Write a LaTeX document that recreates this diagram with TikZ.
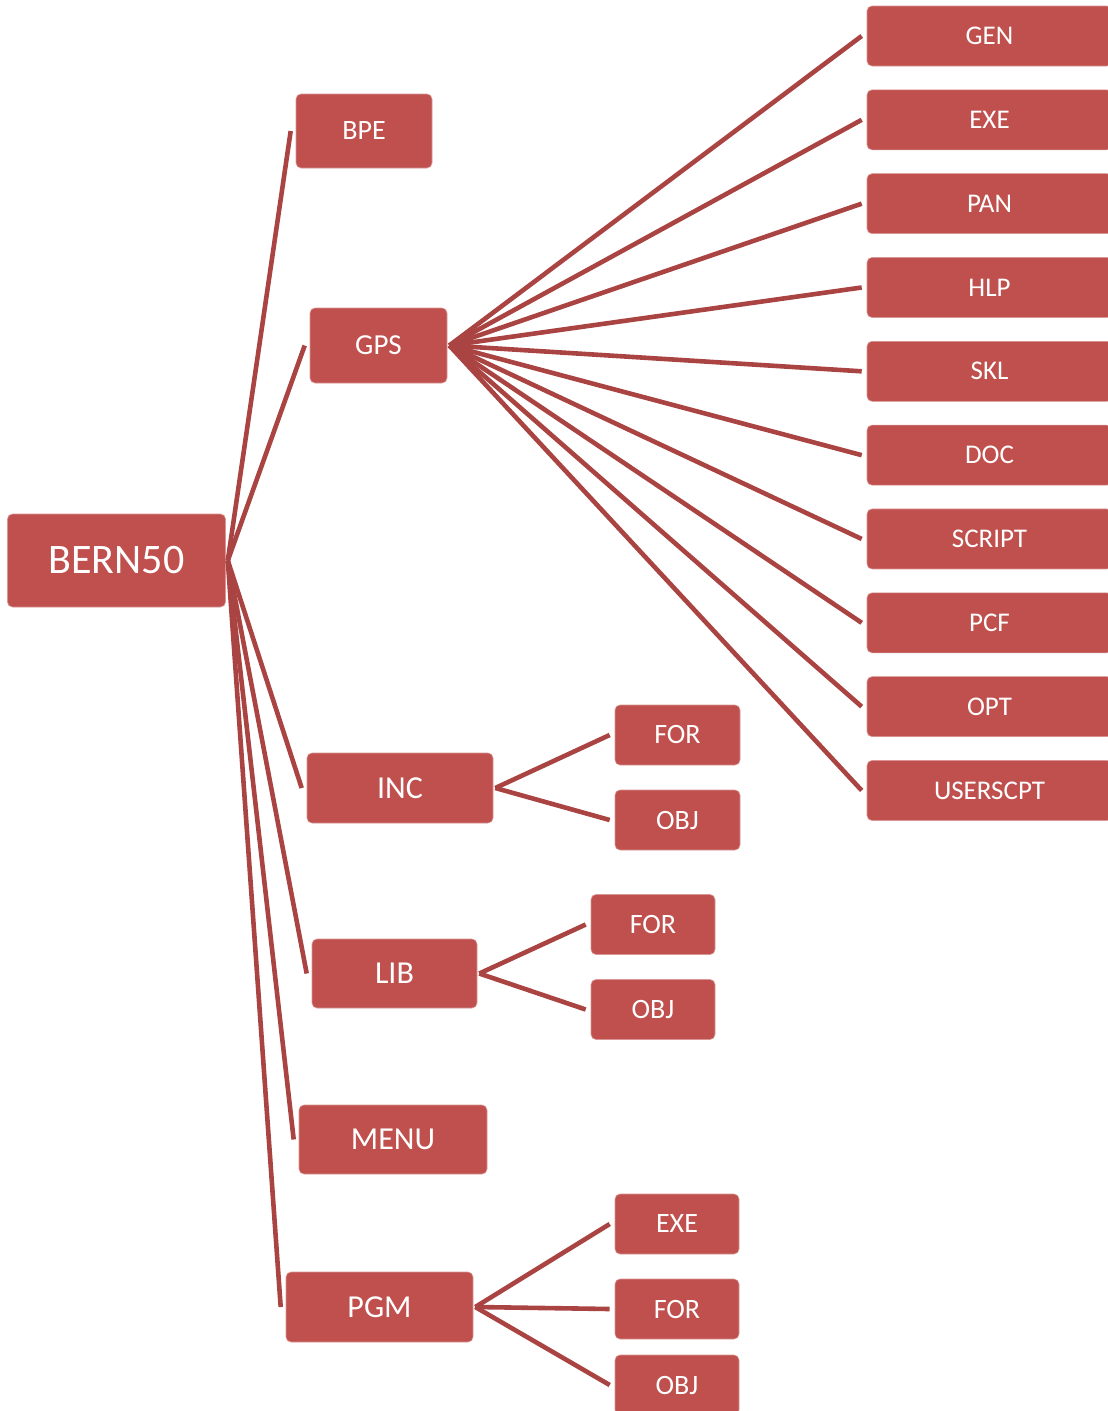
\documentclass[tikz,border=0pt]{standalone}
\usepackage{fontspec}
\setmainfont{Carlito}
\definecolor{boxred}{HTML}{C0504D}
\definecolor{linered}{HTML}{AA4442}
\begin{document}
\begin{tikzpicture}[x=1pt,y=-1pt,
  box/.style={fill=boxred, draw=boxred!60!white, line width=0.6pt, rounded corners=5pt, text=white, inner sep=0pt, anchor=center},
  conn/.style={draw=linered, line width=4.6pt},
  fs/.style={font=\fontsize{#1}{#1}\selectfont}]
\useasboundingbox (0,0) rectangle (1108,1411);
\clip (0,0) rectangle (1108,1411);
% root
\node[box, minimum width=218pt, minimum height=93pt, fs=42] (bern) at (116.5,560.5) {BERN50};
% level 1
\node[box, minimum width=136pt, minimum height=74pt, fs=28] (bpe) at (364,131) {BPE};
\node[box, minimum width=137pt, minimum height=75pt, fs=29] (gps) at (378.5,345.5) {GPS};
\node[box, minimum width=186pt, minimum height=70pt, fs=32] (inc) at (400,788) {INC};
\node[box, minimum width=165pt, minimum height=69pt, fs=32] (lib) at (394.5,973.5) {LIB};
\node[box, minimum width=188pt, minimum height=69pt, fs=32] (menu) at (393,1139.5) {MENU};
\node[box, minimum width=187pt, minimum height=70pt, fs=32] (pgm) at (379.5,1307) {PGM};
% GPS children
\foreach \name/\lab [count=\i from 0] in {gen/GEN,exe/EXE,pan/PAN,hlp/HLP,skl/SKL,doc/DOC,script/SCRIPT,pcf/PCF,opt/OPT,userscpt/USERSCPT}{
  \node[box, minimum width=245pt, minimum height=60pt, fs=27] (\name) at (989.5,{36+83.83*\i}) {\lab};
  \draw[conn] ([xshift=2pt]gps.east) -- ([xshift=-5pt]\name.west);
}
% INC children
\node[box, minimum width=125pt, minimum height=60pt, fs=28] (incfor) at (677.5,735) {FOR};
\node[box, minimum width=125pt, minimum height=60pt, fs=28] (incobj) at (677.5,820) {OBJ};
% LIB children
\node[box, minimum width=124pt, minimum height=60pt, fs=28] (libfor) at (653,924.5) {FOR};
\node[box, minimum width=124pt, minimum height=60pt, fs=28] (libobj) at (653,1009.5) {OBJ};
% PGM children
\node[box, minimum width=124pt, minimum height=60pt, fs=28] (pgmexe) at (677,1224) {EXE};
\node[box, minimum width=124pt, minimum height=60pt, fs=28] (pgmfor) at (677,1309) {FOR};
\node[box, minimum width=124pt, minimum height=60pt, fs=28] (pgmobj) at (677,1385) {OBJ};
% connectors from root
\foreach \c in {bpe,gps,inc,lib,menu,pgm}{
  \draw[conn] ([xshift=2pt]bern.east) -- ([xshift=-5pt]\c.west);
}
\draw[conn] ([xshift=2pt]inc.east) -- ([xshift=-5pt]incfor.west);
\draw[conn] ([xshift=2pt]inc.east) -- ([xshift=-5pt]incobj.west);
\draw[conn] ([xshift=2pt]lib.east) -- ([xshift=-5pt]libfor.west);
\draw[conn] ([xshift=2pt]lib.east) -- ([xshift=-5pt]libobj.west);
\draw[conn] ([xshift=2pt]pgm.east) -- ([xshift=-5pt]pgmexe.west);
\draw[conn] ([xshift=2pt]pgm.east) -- ([xshift=-5pt]pgmfor.west);
\draw[conn] ([xshift=2pt]pgm.east) -- ([xshift=-5pt]pgmobj.west);
\end{tikzpicture}
\end{document}
